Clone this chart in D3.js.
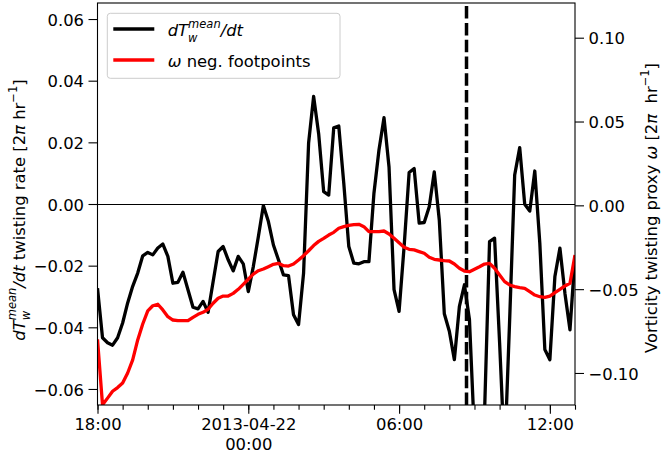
<!DOCTYPE html>
<html><head><meta charset="utf-8">
<script src="https://cdn.jsdelivr.net/npm/d3@7"></script>
<style>
html,body{margin:0;padding:0;background:#fff;}
svg{display:block;font-family:"DejaVu Sans",sans-serif;}
text{white-space:pre;}
</style></head>
<body><svg id="c" width="662" height="456"></svg>
<script>
// ---- data ----
const startTime = [2013, 3, 21, 18, 0];   // 2013-04-21 18:00
const endTime = [2013, 3, 22, 13, 0];     // 2013-04-22 13:00
const cadenceMinutes = 12;
const eventTime = [2013, 3, 22, 8, 41];   // dashed vertical line
const dTdt = [
 -0.0273,-0.0434,-0.0450,-0.0458,-0.0434,-0.0386,-0.0321,-0.0267,-0.0224,-0.0168,
 -0.0157,-0.0165,-0.0143,-0.0130,-0.0170,-0.0257,-0.0254,-0.0221,-0.0278,-0.0335,
 -0.0340,-0.0316,-0.0351,-0.0252,-0.0154,-0.0138,-0.0181,-0.0217,-0.0170,-0.0194,
 -0.0284,-0.0203,-0.0106,-0.0005,-0.0057,-0.0133,-0.0181,-0.0230,-0.0232,-0.0359,
 -0.0391,-0.0224, 0.0198, 0.0349, 0.0228, 0.0040, 0.0029, 0.0247, 0.0253, 0.0067,
 -0.0138,-0.0192,-0.0194,-0.0187,-0.0187, 0.0035, 0.0175, 0.0280, 0.0120,-0.0278,
 -0.0348,-0.0138, 0.0102, 0.0115,-0.0062,-0.0060,-0.0009, 0.0104,-0.0052,-0.0356,
 -0.0413,-0.0505,-0.0332,-0.0262,-0.0375,-0.0750,-0.0850,-0.0680,-0.0122,-0.0111,
 -0.0450,-0.0820,-0.0375, 0.0094, 0.0183,-0.0001,-0.0023, 0.0107,-0.0127,-0.0472,
 -0.0505,-0.0235,-0.0143,-0.0290,-0.0408,-0.0170
];
const omegaNeg = [
 -0.0799,-0.1190,-0.1150,-0.1109,-0.1087,-0.1060,-0.1000,-0.0922,-0.0803,-0.0708,
 -0.0630,-0.0599,-0.0590,-0.0624,-0.0664,-0.0684,-0.0688,-0.0688,-0.0688,-0.0668,
 -0.0650,-0.0638,-0.0620,-0.0584,-0.0554,-0.0541,-0.0541,-0.0525,-0.0501,-0.0471,
 -0.0441,-0.0410,-0.0390,-0.0380,-0.0366,-0.0352,-0.0346,-0.0360,-0.0362,-0.0350,
 -0.0326,-0.0300,-0.0271,-0.0240,-0.0215,-0.0197,-0.0177,-0.0161,-0.0137,-0.0127,
 -0.0119,-0.0115,-0.0113,-0.0127,-0.0157,-0.0157,-0.0157,-0.0153,-0.0171,-0.0197,
 -0.0223,-0.0250,-0.0262,-0.0266,-0.0276,-0.0286,-0.0310,-0.0322,-0.0326,-0.0330,
 -0.0332,-0.0350,-0.0375,-0.0392,-0.0396,-0.0381,-0.0366,-0.0350,-0.0346,-0.0375,
 -0.0415,-0.0455,-0.0475,-0.0485,-0.0491,-0.0495,-0.0515,-0.0535,-0.0545,-0.0549,
 -0.0541,-0.0521,-0.0501,-0.0481,-0.0465,-0.0296
];
const leftTicks = [-0.06,-0.04,-0.02,0.00,0.02,0.04,0.06];
const rightTicks = [-0.10,-0.05,0.00,0.05,0.10];
const leftDomain = [-0.0652, 0.0652];
const rightDomain = [-0.1191, 0.1207];
const majorTickHours = [[2013,3,21,18],[2013,3,22,0],[2013,3,22,6],[2013,3,22,12]];
const majorTickLabels = [["18:00"],["2013-04-22","00:00"],["06:00"],["12:00"]];
const legendLabels = ["dTdt","omega"];

// ---- layout ----
const L = 97.5, R = 575, T = 3, B = 405;
const FS = 16.4;
const svg = d3.select("#c");
const mkDate = a => new Date(a[0], a[1], a[2], a[3] || 0, a[4] || 0);
const t0 = mkDate(startTime);
const times = dTdt.map((_, i) => new Date(t0.getTime() + i * cadenceMinutes * 60000));

const x = d3.scaleTime().domain([mkDate(startTime), mkDate(endTime)]).range([L, R]);
const yL = d3.scaleLinear().domain(leftDomain).range([B, T]);
const yR = d3.scaleLinear().domain(rightDomain).range([B, T]);

svg.append("defs").append("clipPath").attr("id","clip")
  .append("rect").attr("x",L).attr("y",T).attr("width",R-L).attr("height",B-T);

const plot = svg.append("g").attr("clip-path","url(#clip)");
// zero line
plot.append("line").attr("x1",L).attr("x2",R).attr("y1",yL(0)).attr("y2",yL(0))
  .attr("transform","translate(0,0.5)")
  .attr("stroke","#000").attr("stroke-width",1.1);
// black series
plot.append("path").datum(dTdt)
  .attr("d", d3.line().x((d,i)=>x(times[i])).y(d=>yL(d)))
  .attr("fill","none").attr("stroke","#000").attr("stroke-width",3.3).attr("stroke-linejoin","round");
// dashed event line
const ex = x(mkDate(eventTime));
plot.append("line").attr("x1",ex).attr("x2",ex).attr("y1",B).attr("y2",T)
  .attr("stroke","#000").attr("stroke-width",3.5).attr("stroke-dasharray","12.5,4.3");
// red series
plot.append("path").datum(omegaNeg)
  .attr("d", d3.line().x((d,i)=>x(times[i])).y(d=>yR(d)))
  .attr("fill","none").attr("stroke","#ff0000").attr("stroke-width",3.3).attr("stroke-linejoin","round");

// frame
svg.append("rect").attr("x",L).attr("y",T).attr("width",R-L).attr("height",B-T)
  .attr("fill","none").attr("stroke","#000").attr("stroke-width",1.1);

// ---- axes ----
const fmt = d3.format(".2f");
const gL = svg.append("g").attr("transform",`translate(${L},0)`)
  .call(d3.axisLeft(yL).tickValues(leftTicks).tickSize(9).tickPadding(4.5).tickFormat(fmt));
const gR = svg.append("g").attr("transform",`translate(${R},0)`)
  .call(d3.axisRight(yR).tickValues(rightTicks).tickSize(9).tickPadding(4.5).tickFormat(fmt));
[gL,gR].forEach(g=>{
  g.select(".domain").remove();
  g.selectAll("line").attr("stroke","#000").attr("stroke-width",1.1);
  g.selectAll("text").attr("font-size",FS).attr("font-family","DejaVu Sans").attr("fill","#000").attr("dy","0.37em");
});

const minorHours = d3.timeHour.range(mkDate(startTime), new Date(mkDate(endTime).getTime()+1));
svg.append("g").attr("transform",`translate(0,${B})`)
  .call(d3.axisBottom(x).tickValues(minorHours).tickSize(4.7).tickFormat(""))
  .call(g=>{g.select(".domain").remove(); g.selectAll("line").attr("stroke","#000").attr("stroke-width",1.1);});
const majorDates = majorTickHours.map(mkDate);
const gB = svg.append("g").attr("transform",`translate(0,${B})`)
  .call(d3.axisBottom(x).tickValues(majorDates).tickSize(8.7).tickFormat(""));
gB.select(".domain").remove();
gB.selectAll("line").attr("stroke","#000").attr("stroke-width",1.1);
gB.selectAll(".tick").each(function(d,i){
  const t = d3.select(this).append("text").attr("fill","#000").attr("font-size",FS)
    .attr("font-family","DejaVu Sans").attr("text-anchor","middle");
  majorTickLabels[i].forEach((s,j)=>{
    t.append("tspan").attr("x",0).attr("y",25 + j*20).text(s);
  });
});

// ---- rich text helper (math-like) ----
function rich(parent, pieces, fs){
  const g = parent.append("g");
  let xpos = 0, lastStart = 0;
  pieces.forEach(p=>{
    const start = p.stack ? lastStart : xpos;
    const size = fs*(p.s||1);
    const t = g.append("text").attr("x",start).attr("y",(p.dy||0)*fs)
      .attr("font-size",size).attr("font-family","DejaVu Sans")
      .attr("font-style",p.it?"italic":"normal").attr("fill","#000").text(p.t);
    const w = t.node().getComputedTextLength();
    xpos = Math.max(xpos, start + w);
    lastStart = start;
  });
  return {g, width:xpos};
}
const dTpieces = [
  {t:"dT",it:true},
  {t:"w",it:true,s:0.7,dy:0.35},
  {t:"mean",it:true,s:0.7,dy:-0.5,stack:true},
  {t:"/dt",it:true}
];

// left ylabel
{
  const outer = svg.append("g").attr("transform","translate(24.5,210) rotate(-90)");
  const r = rich(outer, dTpieces.concat([
    {t:" twisting rate ["},{t:"2"},{t:"π",it:true},{t:" hr"},
    {t:"−1",s:0.7,dy:-0.45},{t:"]"}
  ]), FS);
  r.g.attr("transform",`translate(${-r.width/2},0)`);
}
// right ylabel
{
  const outer = svg.append("g").attr("transform","translate(656.5,208) rotate(-90)");
  const r = rich(outer, [
    {t:"Vorticity twisting proxy "},{t:"ω",it:true},{t:" ["},{t:"2"},{t:"π",it:true},
    {t:"  hr"},{t:"−1",s:0.7,dy:-0.45},{t:"]"}
  ], FS);
  r.g.attr("transform",`translate(${-r.width/2},0)`);
}

// ---- legend ----
const lg = svg.append("g");
lg.append("rect").attr("x",107.3).attr("y",13.3).attr("width",232.7).attr("height",65)
  .attr("rx",3).attr("fill","#fff").attr("fill-opacity",0.8).attr("stroke","#cccccc").attr("stroke-width",1);
const legColors = {dTdt:"#000", omega:"#ff0000"};
legendLabels.forEach((k,i)=>{
  const ly = i===0 ? 29 : 60;
  lg.append("line").attr("x1",113.3).attr("x2",154.3).attr("y1",ly).attr("y2",ly)
    .attr("stroke",legColors[k]).attr("stroke-width",3.3);
  const holder = lg.append("g").attr("transform",`translate(167.7,${ly+7})`);
  if(k==="dTdt") rich(holder, dTpieces, FS);
  else rich(holder, [{t:"ω",it:true},{t:" neg. footpoints"}], FS);
});
</script></body></html>
